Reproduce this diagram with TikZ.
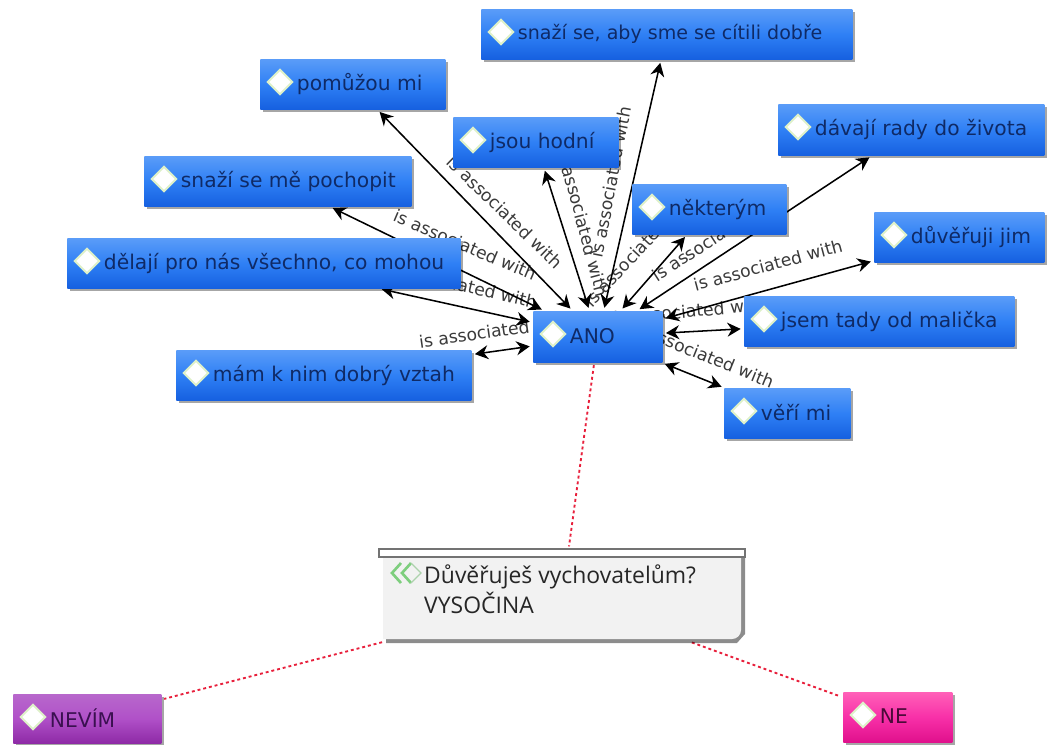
\documentclass[tikz,border=0pt]{standalone}
\usepackage{fontspec}
\setmainfont{DejaVu Sans}
\newfontfamily\notefont{Open Sans}
\usetikzlibrary{shapes.geometric,arrows.meta,backgrounds,shadows,calc}
\definecolor{txtblue}{HTML}{0F2A66}
\definecolor{blue1}{HTML}{5A9CF8}\definecolor{blue3}{HTML}{2F80F5}\definecolor{blue2}{HTML}{1660E0}
\definecolor{purple1}{HTML}{B868CC}\definecolor{purple3}{HTML}{B050C8}\definecolor{purple2}{HTML}{8E2AA6}
\definecolor{pink1}{HTML}{FF60B8}\definecolor{pink3}{HTML}{F830A8}\definecolor{pink2}{HTML}{E0108C}
\definecolor{purpletxt}{HTML}{3A1050}\definecolor{pinktxt}{HTML}{4A0A38}
\definecolor{gemrim}{HTML}{DDF0C8}\definecolor{reddot}{HTML}{E8203C}\definecolor{lbltxt}{HTML}{3A3A3A}
\tikzset{
  pxl/.style={x=0.75pt,y=-0.75pt},
  boxbase/.style={rectangle,inner sep=0pt,anchor=north west,font=\fontsize{15.2pt}{18pt}\selectfont,
    drop shadow={shadow xshift=1.8pt,shadow yshift=-1.8pt,opacity=.35,fill=black}},
  bluebox/.style={boxbase,text=txtblue,top color=blue1,bottom color=blue2,middle color=blue3},
  purplebox/.style={boxbase,text=purpletxt,top color=purple1,bottom color=purple2,middle color=purple3},
  pinkbox/.style={boxbase,text=pinktxt,top color=pink1,bottom color=pink2,middle color=pink3},
  gem/.style={diamond,fill=white,draw=gemrim,line width=1.5pt,inner sep=0pt,minimum width=19pt,minimum height=19pt},
  assoc/.style={draw=black,line width=1.15pt,{Stealth[length=10pt,width=10.5pt]}-{Stealth[length=10pt,width=10.5pt]},shorten <=2.5pt,shorten >=2.5pt},
  reddash/.style={draw=reddot,line width=1.4pt,dash pattern=on 2.2pt off 2.2pt,shorten <=2pt,shorten >=2pt},
  lbl/.style={text=lbltxt,font=\fontsize{12.9pt}{15pt}\selectfont,inner sep=0pt}
}
\newlength{\bw}\newlength{\bh}
\newcommand{\tbox}[7]{%
  \pgfmathsetlength{\bw}{(#4-#2)*0.75pt}%
  \pgfmathsetlength{\bh}{(#5-#3)*0.75pt}%
  \node[#6,minimum width=\bw,minimum height=\bh] (#1) at (#2,#3)
    {\makebox[\bw][l]{\hspace*{27.5pt}\raisebox{1.5pt}{#7}}};
  \node[gem] (#1-gem) at ($(#2,#3)+(20,23)$) {};
}
\begin{document}
\begin{tikzpicture}[pxl]
\useasboundingbox (0,0) rectangle (1052,744);
% boxes
\tbox{aby}{481}{9}{852}{59}{bluebox}{\fontsize{14.3pt}{18pt}\selectfont snaží se, aby sme se cítili dobře}
\tbox{pomuzou}{260}{59}{445}{109}{bluebox}{pomůžou mi}
\tbox{hodni}{453}{117}{618}{167}{bluebox}{jsou hodní}
\tbox{rady}{778}{104}{1044}{155}{bluebox}{dávají rady do života}
\tbox{pochopit}{144}{156}{411}{206}{bluebox}{snaží se mě pochopit}
\tbox{nekterym}{632}{184}{786}{234}{bluebox}{některým}
\tbox{duveruji}{874}{212}{1044}{262}{bluebox}{důvěřuji jim}
\tbox{delaji}{67}{238}{460}{288}{bluebox}{dělají pro nás všechno, co mohou}
\tbox{ano}{533}{311}{662}{362}{bluebox}{ANO}
\tbox{jsem}{744}{296}{1014}{346}{bluebox}{jsem tady od malička}
\tbox{vztah}{176}{350}{471}{400}{bluebox}{mám k nim dobrý vztah}
\tbox{veri}{724}{388}{850}{438}{bluebox}{věří mi}
\tbox{nevim}{13}{694}{161}{743}{purplebox}{NEVÍM}
\tbox{ne}{843}{692}{952}{742}{pinkbox}{NE}
% note
\fill[black,opacity=.45] (386,552) -- (745,552) -- (745,634) -- (737,643) -- (386,643) -- cycle;
\fill[black!5] (383,552) -- (741,552) -- (741,630) arc[start angle=0,end angle=90,radius=9] -- (383,639) -- cycle;
\filldraw[fill=white,draw=black!55,line width=1pt] (379,549) rectangle (745,557);
\node[rectangle,inner sep=0pt,minimum width=268.5pt,minimum height=69pt,anchor=north west,font=\notefont\fontsize{17.2pt}{23pt}\selectfont,text=black!85] (note) at (383,549)
  {\makebox[268.5pt][l]{\hspace*{30.7pt}\parbox[c]{232pt}{\raggedright\vspace*{-9pt}Důvěřuješ vychovatelům?\\VYSOČINA}}};
\draw[draw=green!45!gray!70,line width=2pt,line join=miter] (401,563) -- (392,573) -- (401,583) (411,563) -- (402,573) -- (411,583);
\draw[draw=green!30!gray!50,line width=1pt] (411,563) -- (421,573) -- (411,583);
% connectors and labels under the boxes
\begin{pgfonlayer}{background}
\fill[white] (0,0) rectangle (1052,744);
\node[lbl,rotate=-44] (l1) at (505,212) {is associated with};
\node[lbl,rotate=-23] (l2) at (465,245) {is associated with};
\node[lbl,rotate=-13] (l3) at (462,285) {is associated with};
\node[lbl,rotate=8] (l4) at (495,331) {is associated with};
\node[lbl,rotate=-75] (l5) at (583,222) {is associated with};
\node[lbl,rotate=79] (l6) at (611,182) {is associated with};
\node[lbl,rotate=47] (l7) at (640,248) {is associated with};
\node[lbl,rotate=33] (l8) at (718,235) {is associated with};
\node[lbl,rotate=15] (l9) at (768,265) {is associated with};
\node[lbl,rotate=5] (l10) at (690,311) {is associated with};
\node[lbl,rotate=-22] (l11) at (702,354) {is associated with};
\draw[assoc] (ano) -- (aby);
\draw[assoc] (ano) -- (pomuzou);
\draw[assoc] (ano) -- (hodni);
\draw[assoc] (ano) -- (rady);
\draw[assoc] (ano) -- (pochopit);
\draw[assoc] (ano) -- (nekterym);
\draw[assoc] (ano) -- (duveruji);
\draw[assoc] (ano) -- (delaji);
\draw[assoc] (ano) -- (jsem);
\draw[assoc] (ano) -- (vztah);
\draw[assoc] (ano) -- (veri);
\draw[reddash] (ano) -- (note);
\draw[reddash] (note) -- (nevim);
\draw[reddash] (note) -- (ne);
\end{pgfonlayer}
\end{tikzpicture}
\end{document}
